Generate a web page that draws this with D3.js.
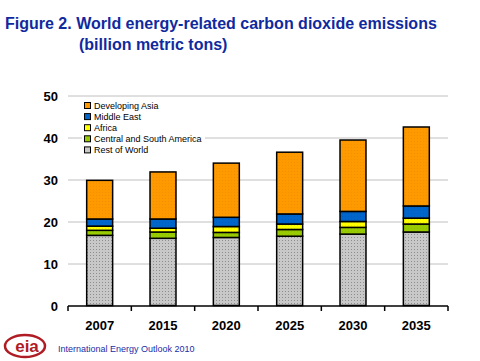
<!DOCTYPE html>
<html><head><meta charset="utf-8">
<script src="https://cdn.jsdelivr.net/npm/d3@7"></script>
<style>body{margin:0;background:#fff}svg{display:block;font-family:Arial,"Liberation Sans",sans-serif}</style>
</head><body><svg id="c" width="480" height="361"></svg>
<script>
const years = ["2007","2015","2020","2025","2030","2035"];
const seriesNames = ["Rest of World","Central and South America","Africa","Middle East","Developing Asia"];
const restOfWorld = [16.7,16.0,16.2,16.5,17.0,17.5];
const centralSouthAmerica = [1.2,1.5,1.2,1.6,1.6,1.9];
const africa = [1.0,0.9,1.4,1.3,1.4,1.4];
const middleEast = [1.7,2.2,2.2,2.4,2.4,2.9];
const developingAsia = [9.2,11.2,12.9,14.7,17.0,18.8];
const yTicks = [0,10,20,30,40,50];
const colors = ["#c8c8c8","#99cc00","#ffff00","#0066cc","#ff9900"];

const svg = d3.select("#c");
const defs = svg.append("defs");
const dotCol = ["#808080","#7aa300","#cccc00","#0052a3","#d98000"];
colors.forEach((c,i)=>{
  const p = defs.append("pattern").attr("id","p"+i).attr("patternUnits","userSpaceOnUse").attr("width",3).attr("height",3);
  p.append("rect").attr("width",3).attr("height",3).attr("fill",c);
  p.append("rect").attr("width",1).attr("height",1).attr("fill",dotCol[i]).attr("opacity", i===0?0.8:0.35);
});

const vals = [restOfWorld,centralSouthAmerica,africa,middleEast,developingAsia];
const data = years.map((y,j)=>{const o={year:y}; seriesNames.forEach((s,i)=>o[s]=vals[i][j]); return o;});
const stack = d3.stack().keys(seriesNames)(data);

const x = d3.scaleBand().domain(years).range([68,448]).paddingInner(0.59).paddingOuter(0.295);
const xb = d3.scaleBand().domain(years).range([68,448]);
const y = d3.scaleLinear().domain([0,50]).range([305.5,95.5]);

// gridlines
svg.append("g").selectAll("line").data(yTicks.slice(1)).join("line")
  .attr("x1",68).attr("x2",448).attr("y1",d=>y(d)+0.5).attr("y2",d=>y(d)+0.5)
  .attr("stroke","#c0c0c0").attr("stroke-width",1);

// y labels
svg.append("g").selectAll("text").data(yTicks).join("text")
  .attr("x",58).attr("y",d=>y(d)+5).attr("text-anchor","end")
  .attr("font-size",13).attr("font-weight","bold").text(d=>d);

// bars
svg.append("g").selectAll("g").data(stack).join("g")
  .attr("fill",(d,i)=>`url(#p${i})`)
  .selectAll("rect").data(d=>d).join("rect")
  .attr("x",d=>x(d.data.year)).attr("width",x.bandwidth())
  .attr("y",d=>y(d[1])).attr("height",d=>y(d[0])-y(d[1]))
  .attr("stroke","#000").attr("stroke-width",1.5);

// x axis
const xa = svg.append("g");
xa.append("line").attr("x1",68).attr("x2",448).attr("y1",306).attr("y2",306).attr("stroke","#000").attr("stroke-width",1.5);
xa.selectAll("line.t").data(years.concat(["end"])).join("line").attr("class","t")
  .attr("x1",(d,i)=>68+i*xb.bandwidth()).attr("x2",(d,i)=>68+i*xb.bandwidth())
  .attr("y1",306).attr("y2",311).attr("stroke","#000").attr("stroke-width",1.5);
xa.selectAll("text").data(years).join("text")
  .attr("x",d=>xb(d)+xb.bandwidth()/2).attr("y",330).attr("text-anchor","middle")
  .attr("font-size",13).attr("font-weight","bold").text(d=>d);

// legend
const leg = svg.append("g");
leg.append("rect").attr("x",82).attr("y",99).attr("width",123).attr("height",56).attr("fill","#fff");
const legOrder = seriesNames.slice().reverse();
legOrder.forEach((s,k)=>{
  const i = seriesNames.indexOf(s);
  const cy = 105.5 + k*11.1;
  leg.append("rect").attr("x",84.5).attr("y",cy-3).attr("width",6).attr("height",6)
    .attr("fill",colors[i]).attr("stroke","#000").attr("stroke-width",1);
  leg.append("text").attr("x",94).attr("y",cy+3.5).attr("font-size",9).text(s);
});

// title
const tc = "#0f2a9e";
svg.append("text").attr("x",5).attr("y",29).attr("font-size",16).attr("font-weight","bold").attr("fill",tc)
  .text("Figure 2. World energy-related carbon dioxide emissions");
svg.append("text").attr("x",79).attr("y",50).attr("font-size",16).attr("font-weight","bold").attr("fill",tc)
  .text("(billion metric tons)");

// footer logo
const lg = svg.append("g");
lg.append("ellipse").attr("cx",25).attr("cy",346).attr("rx",20).attr("ry",11).attr("fill","none").attr("stroke","#b01c24").attr("stroke-width",2.5);
lg.append("text").attr("x",27).attr("y",352).attr("text-anchor","middle").attr("font-size",17).attr("font-weight","bold").attr("fill","#b01c24").text("eia");
svg.append("text").attr("x",58).attr("y",352).attr("font-size",9).attr("fill","#1a2ea8").text("International Energy Outlook 2010");
</script></body></html>
